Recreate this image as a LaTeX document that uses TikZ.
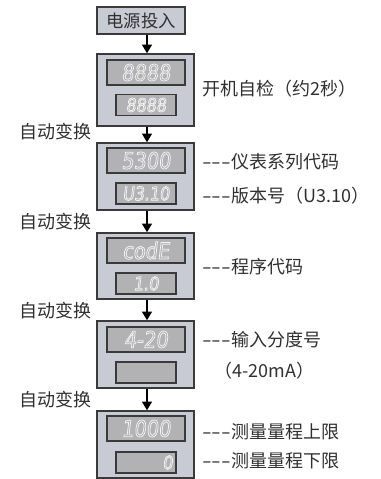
\documentclass[tikz,border=0pt]{standalone}
\usepackage{fontspec}
\setmainfont{Noto Sans CJK SC}
\newfontfamily\segfont[FakeSlant=0.12,FakeStretch=0.85]{DejaVu Sans}
\usetikzlibrary{arrows.meta}
\definecolor{edge}{HTML}{3A3A3A}
\definecolor{boxfill}{HTML}{C9CBD4}
\definecolor{dispfill}{HTML}{B2B2B4}
\definecolor{txt}{HTML}{303030}
\definecolor{seg}{HTML}{F4F4F4}
\newcommand\hollowtext[1]{\special{pdf:literal direct 1 Tr 0.55 w}#1\special{pdf:literal direct 0 Tr}}
\newcommand\dashes{\scalebox{1.55}[1]{-{}-{}-}}
\tikzset{
  devbox/.style={draw=edge, fill=boxfill, line width=1.1pt, minimum width=72.75pt, inner sep=0pt},
  startbox/.style={draw=edge, fill=boxfill, line width=1.1pt, minimum width=66pt, minimum height=20.25pt, inner sep=0pt, text=txt, font=\fontsize{13pt}{15pt}\selectfont},
  bigdisp/.style={draw=edge, fill=dispfill, line width=0.9pt, minimum width=58.5pt, minimum height=18.75pt, inner sep=0pt, text=seg, font=\segfont\fontsize{17pt}{17pt}\selectfont},
  smalldisp/.style={draw=edge, fill=dispfill, line width=0.9pt, minimum width=45pt, minimum height=15.75pt, inner sep=0pt, text=seg, font=\segfont\fontsize{14pt}{14pt}\selectfont},
  rlabel/.style={anchor=west, inner sep=0pt, text=txt, font=\fontsize{13.5pt}{16pt}\selectfont},
  llabel/.style={anchor=east, inner sep=0pt, text=txt, font=\fontsize{13.5pt}{16pt}\selectfont},
  flow/.style={-{Triangle[width=7.5pt,length=6.5pt]}, line width=1pt, black}
}
\begin{document}
\begin{tikzpicture}[x=0.75pt,y=-0.75pt]
\useasboundingbox (0,0) rectangle (381,479);
% start
\node[startbox] (start) at (141,20.5) {电源投入};
% device boxes
\node[devbox, minimum height=54pt] (b1) at (145.5,90) {};
\node[devbox, minimum height=50.25pt] (b2) at (145.5,176.5) {};
\node[devbox, minimum height=49.5pt] (b3) at (145.5,266) {};
\node[devbox, minimum height=50.25pt] (b4) at (145.5,354.5) {};
\node[devbox, minimum height=50.25pt] (b5) at (145.5,444.5) {};
% displays
\node[bigdisp] (d1u) at (146,72.5) {\hollowtext{8888}};
\node[smalldisp] (d1l) at (146,105) {\hollowtext{8888}};
\node[bigdisp] (d2u) at (146,160.5) {\hollowtext{5300}};
\node[smalldisp] (d2l) at (146,193.5) {\hollowtext{U3.10}};
\node[bigdisp] (d3u) at (146,250.5) {\hollowtext{codE}};
\node[smalldisp] (d3l) at (146,283.5) {\hollowtext{1.0}};
\node[bigdisp] (d4u) at (146,339.5) {\hollowtext{4-20}};
\node[smalldisp] (d4l) at (146,372.5) {};
\node[bigdisp] (d5u) at (146,428.5) {\hollowtext{1000}};
\node[smalldisp, align=right, text width=40pt] (d5l) at (146,462.5) {\hollowtext{0}};
% arrows
\draw[flow] (start.south -| 147,0) -- (147,0 |- b1.north);
\draw[flow] (b1.south -| 147,0) -- (147,0 |- b2.north);
\draw[flow] (b2.south -| 147,0) -- (147,0 |- b3.north);
\draw[flow] (b3.south -| 147,0) -- (147,0 |- b4.north);
\draw[flow] (b4.south -| 147,0) -- (147,0 |- b5.north);
% left labels
\node[llabel] (a1) at (92,132) {自动变换};
\node[llabel] (a2) at (92,222) {自动变换};
\node[llabel] (a3) at (92,311) {自动变换};
\node[llabel] (a4) at (92,400) {自动变换};
% right labels
\node[rlabel] (t1) at (202,89) {开机自检（约2秒）};
\node[rlabel] (t2) at (202,161.5) {\dashes 仪表系列代码};
\node[rlabel] (t3) at (202,196) {\dashes 版本号（U3.10）};
\node[rlabel] (t4) at (202,267) {\dashes 程序代码};
\node[rlabel] (t5) at (202,340) {\dashes 输入分度号};
\node[rlabel] (t6) at (214,371) {（4-20mA）};
\node[rlabel] (t7) at (202,432) {\dashes 测量量程上限};
\node[rlabel] (t8) at (202,461) {\dashes 测量量程下限};
\end{tikzpicture}
\end{document}
